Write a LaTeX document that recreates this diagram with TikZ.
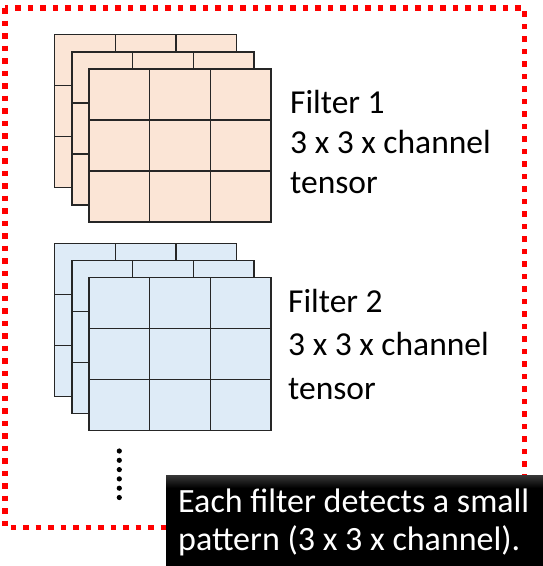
\documentclass[tikz,border=0pt]{standalone}
\usepackage{fontspec}
\setmainfont{Carlito}
\usetikzlibrary{positioning}

\definecolor{peach}{HTML}{FBE5D6}
\definecolor{paleblue}{HTML}{DEEBF7}
\definecolor{gridline}{HTML}{262626}

% one 3x3 slice of a filter, top left corner at (#1,#2)
\newcommand{\filterslice}[3]{%
    \begin{scope}[shift={(#1,#2)}]
        \draw[slice, fill=#3] (0,0) rectangle (182,153);
        \foreach \i in {1,2} {
            \draw[slice] (\i*60.67,0) -- (\i*60.67,153);
            \draw[slice] (0,\i*51) -- (182,\i*51);
        }
    \end{scope}
}

\begin{document}
\begin{tikzpicture}[
    x=1pt, y=-1pt,
    slice/.style={draw=gridline, line width=1.4pt},
    redframe/.style={draw=red, line width=5.5pt, dash pattern=on 5.5pt off 7pt},
    caption/.style={
        inner sep=0pt, align=left, anchor=base west,
        font=\fontsize{33.5}{#1}\selectfont
    },
    note/.style={
        inner sep=0pt, align=left, anchor=base west, text=white,
        font=\fontsize{34}{38}\selectfont
    },
]
\useasboundingbox (0,0) rectangle (543,566);

% Outer dotted frame
\draw[redframe] (5,8) rectangle (524.5,527.5);

% Filter 1: three stacked slices
\foreach \k in {0,1,2} {
    \filterslice{54.7+\k*17.2}{34.7+\k*17.2}{peach}
}
% anchor is the baseline of the last line
\node[caption=40] (label1) at (290,193) {Filter 1\\3 x 3 x channel\\tensor};

% Filter 2
\foreach \k in {0,1,2} {
    \filterslice{54.7+\k*17.2}{243.3+\k*17.2}{paleblue}
}
\node[caption=43.5] (label2) at (288,399) {Filter 2\\3 x 3 x channel\\tensor};

% More filters
\foreach \k in {0,...,5} {
    \fill (119.3,451+\k*9.3) circle (2.6);
}

% Comment box
\fill[black] (166,475) rectangle (543,566);
\shade[top color=black!78, bottom color=black] (166,475) rectangle (543,488);
\node[note] (remark) at (178,550) {Each filter detects a small\\pattern (3 x 3 x channel).};

\end{tikzpicture}
\end{document}
